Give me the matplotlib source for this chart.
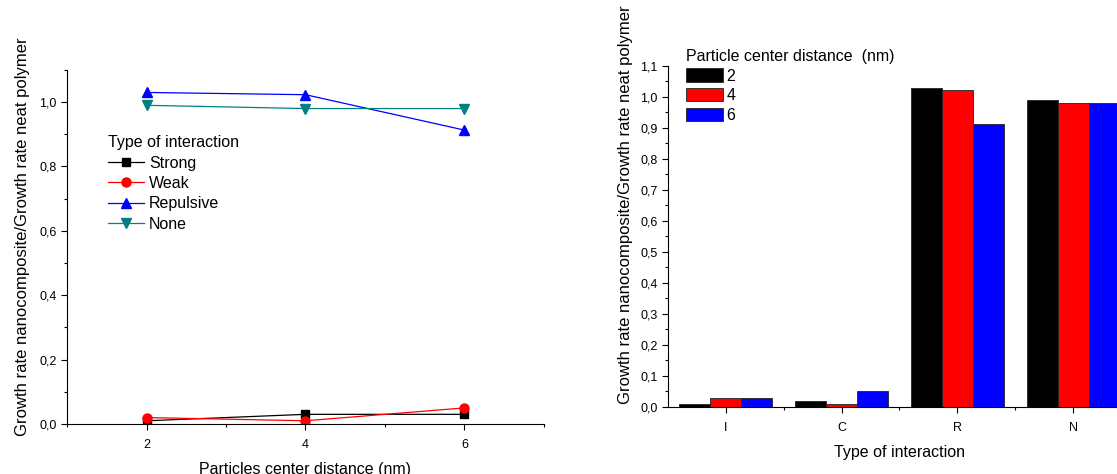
import numpy as np
import matplotlib.pyplot as plt
from matplotlib.ticker import MultipleLocator, FuncFormatter

plt.rcParams['font.family'] = ['Liberation Sans', 'DejaVu Sans']

# left panel data
distance = [2, 4, 6]
strong = [0.01, 0.03, 0.03]
weak = [0.02, 0.01, 0.05]
repulsive = [1.03, 1.023, 0.913]
none_int = [0.99, 0.98, 0.98]

# right panel data
interaction = ['I', 'C', 'R', 'N']
d2 = [0.01, 0.02, 1.03, 0.99]
d4 = [0.03, 0.01, 1.023, 0.98]
d6 = [0.03, 0.05, 0.913, 0.98]
dist_labels = ['2', '4', '6']

ylabel = 'Growth rate nanocomposite/Growth rate neat polymer'
comma = FuncFormatter(lambda v, p: f'{v:.1f}'.replace('.', ','))
FS = 11.5


def style_axes(ax):
    for s in ['top', 'right']:
        ax.spines[s].set_visible(False)
    ax.tick_params(which='both', direction='out', labelsize=9, width=0.8)
    ax.tick_params(which='major', length=4)
    ax.tick_params(which='minor', length=2.5)
    ax.tick_params(axis='x', pad=7)
    ax.yaxis.set_major_formatter(comma)


fig = plt.figure(figsize=(11.17, 4.74), dpi=100)

ax1 = fig.add_axes([0.06, 0.1055, 0.427, 0.747])
ax1.plot(distance, strong, color='black', marker='s', ms=6, lw=0.9, label='Strong')
ax1.plot(distance, weak, color='red', marker='o', ms=6.5, lw=0.9, label='Weak')
ax1.plot(distance, repulsive, color='blue', marker='^', ms=7, lw=0.9, label='Repulsive')
ax1.plot(distance, none_int, color='#008080', marker='v', ms=7, lw=0.9, label='None')
ax1.set_xlim(1, 7)
ax1.set_ylim(0, 1.1)
ax1.set_xticks(distance)
ax1.xaxis.set_minor_locator(MultipleLocator(1))
ax1.yaxis.set_major_locator(MultipleLocator(0.2))
ax1.yaxis.set_minor_locator(MultipleLocator(0.1))
style_axes(ax1)
ax1.set_xlabel('Particles center distance (nm)', fontsize=FS, labelpad=8)
ax1.set_ylabel(ylabel, fontsize=12, labelpad=7)
ax1.yaxis.label.set_y(0.528)
leg1 = ax1.legend(title='Type of interaction', frameon=False, fontsize=FS,
                  title_fontsize=FS, loc='upper left', bbox_to_anchor=(0.085, 0.815),
                  handlelength=2.3, labelspacing=0.33, handletextpad=0.3,
                  borderaxespad=0, borderpad=0)
leg1._legend_box.align = 'left'

ax2 = fig.add_axes([0.598, 0.1414, 0.4145, 0.7194])
x = np.arange(len(interaction))
w = 0.267
for i, (vals, col) in enumerate([(d2, 'black'), (d4, 'red'), (d6, 'blue')]):
    ax2.bar(x + (i - 1) * w, vals, w, color=col, edgecolor='#222222', lw=0.6,
            label=dist_labels[i])
ax2.set_xlim(-0.5, 3.5)
ax2.set_ylim(0, 1.1)
ax2.set_xticks(x)
ax2.set_xticklabels(interaction)
ax2.set_xticks(x + 0.5, minor=True)
ax2.yaxis.set_major_locator(MultipleLocator(0.1))
ax2.yaxis.set_minor_locator(MultipleLocator(0.05))
style_axes(ax2)
ax2.set_xlabel('Type of interaction', fontsize=FS, labelpad=8)
ax2.set_ylabel(ylabel, fontsize=12, labelpad=5)
ax2.yaxis.label.set_y(0.592)
leg2 = ax2.legend(title='Particle center distance  (nm)', frameon=False, fontsize=FS,
                  title_fontsize=FS, loc='upper left', bbox_to_anchor=(0.04, 1.05),
                  handlelength=2.3, handleheight=0.9, labelspacing=0.28,
                  handletextpad=0.2, borderaxespad=0, borderpad=0)
leg2._legend_box.align = 'left'

fig.savefig('out.png', dpi=100)
